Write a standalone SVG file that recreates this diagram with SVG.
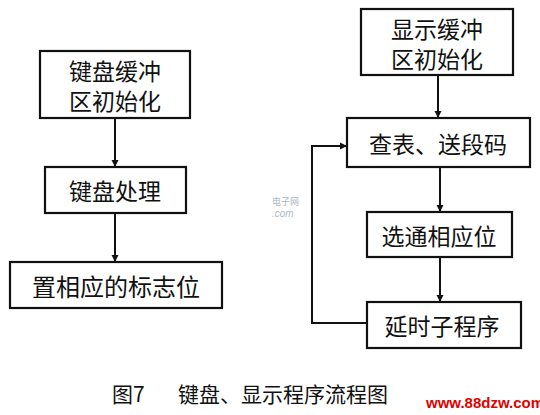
<svg xmlns="http://www.w3.org/2000/svg" width="540" height="415" viewBox="0 0 540 415">
<style>
.box{fill:#fff;stroke:#111;stroke-width:2.2}
.t{font-family:"Noto Sans CJK SC","Noto Sans",sans-serif;font-size:23px;fill:#111;text-anchor:middle;dominant-baseline:central}
.ln{fill:none;stroke:#111;stroke-width:2}
.cap{font-family:"Noto Sans CJK SC",sans-serif;font-size:21px;fill:#111}
</style>
<defs>
<marker id="ah" viewBox="0 0 10 10" refX="10" refY="5" markerWidth="7" markerHeight="8" markerUnits="userSpaceOnUse" orient="auto">
<path d="M0,0 L10,5 L0,10 z" fill="#111"/>
</marker>
</defs>
<rect width="540" height="415" fill="#fff"/>
<g id="connectors">
<line class="ln" x1="115" y1="118" x2="115" y2="167" marker-end="url(#ah)"/>
<line class="ln" x1="115" y1="213" x2="115" y2="262" marker-end="url(#ah)"/>
<line class="ln" x1="438" y1="75" x2="438" y2="118" marker-end="url(#ah)"/>
<line class="ln" x1="440" y1="167" x2="440" y2="212" marker-end="url(#ah)"/>
<line class="ln" x1="440" y1="257" x2="440" y2="302" marker-end="url(#ah)"/>
<polyline class="ln" points="367,323 312,323 312,146 347,146" marker-end="url(#ah)"/>
</g>
<g id="n1"><rect class="box" x="40" y="51" width="150" height="67"/><text class="t"><tspan x="115" y="70">键盘缓冲</tspan><tspan x="115" y="100">区初始化</tspan></text></g>
<g id="n2"><rect class="box" x="45" y="167" width="141" height="46"/><text class="t" x="115" y="190">键盘处理</text></g>
<g id="n3"><rect class="box" x="10" y="262" width="212" height="46"/><text class="t" x="116" y="285" style="font-size:24px">置相应的标志位</text></g>
<g id="r1"><rect class="box" x="361" y="9" width="152" height="66"/><text class="t"><tspan x="437" y="28">显示缓冲</tspan><tspan x="437" y="58">区初始化</tspan></text></g>
<g id="r2"><rect class="box" x="347" y="118" width="183" height="49"/><text class="t" x="438" y="143">查表、送段码</text></g>
<g id="r3"><rect class="box" x="367" y="212" width="145" height="45"/><text class="t" x="439" y="235">选通相应位</text></g>
<g id="r4"><rect class="box" x="367" y="302" width="154" height="46"/><text class="t" x="442" y="325">延时子程序</text></g>
<g id="wm1" font-family="'Liberation Sans',sans-serif" fill="#aab8c8">
<text x="272" y="205" font-size="9" font-family="'Noto Sans CJK SC',sans-serif">电子网</text>
<text x="272" y="217" font-size="10" font-style="italic">.com</text>
</g>
<g id="caption">
<text class="cap" x="112" y="402">图7</text>
<text class="cap" x="178" y="402">键盘、显示程序流程图</text>
<rect x="422" y="392" width="118" height="23" fill="#fff"/>
<text x="426" y="408" font-family="'Liberation Sans',sans-serif" font-weight="bold" font-size="15" fill="#e00000">www.88dzw.com</text>
</g>
</svg>
